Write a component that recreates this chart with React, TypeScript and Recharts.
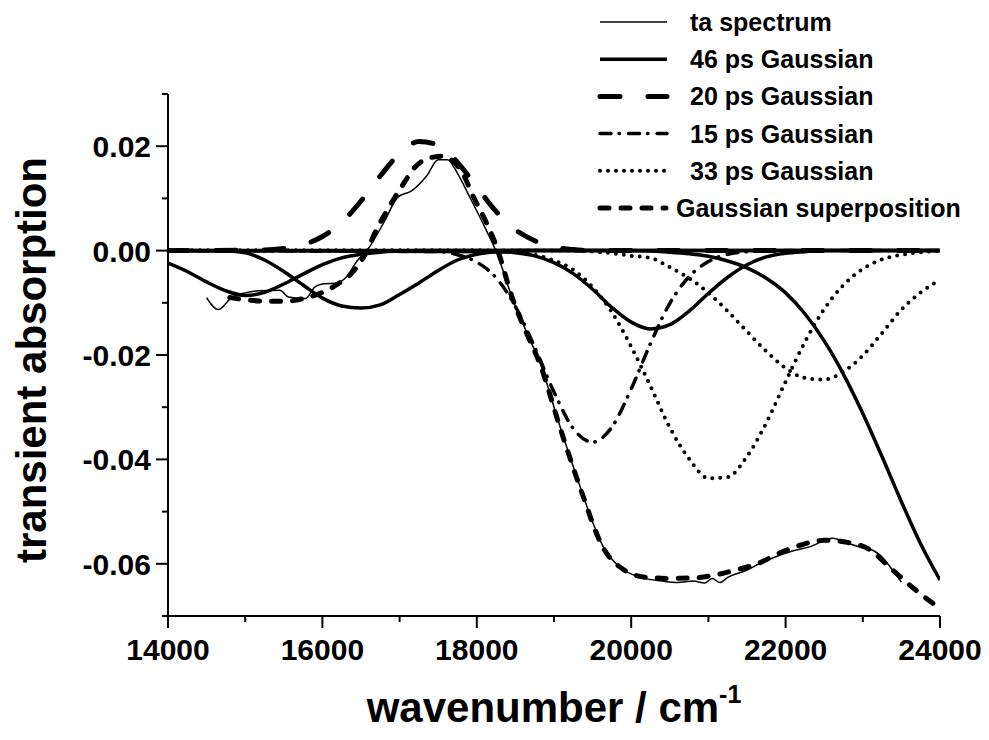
import { LineChart, Line, XAxis, YAxis, Label } from 'recharts';

const FONT = '"Liberation Sans", Arial, Helvetica, sans-serif';

// axis ticks (major every 2000 cm-1 / 0.02, minor in between)
const xTicks = [14000, 15000, 16000, 17000, 18000, 19000, 20000, 21000, 22000, 23000, 24000];
const yTicks = [-0.07, -0.06, -0.05, -0.04, -0.03, -0.02, -0.01, 0, 0.01, 0.02, 0.03];

// measured transient absorption spectrum
const taX = [14500, 14650, 14830, 15000, 15170, 15450, 15560, 15780, 15900, 16000, 16200, 16300, 16450, 16600, 16800, 16980, 17150, 17350, 17500, 17620, 17750, 17900, 18080, 18260, 18470, 18650, 18820, 19080, 19340, 19500, 19640, 19850, 20150, 20400, 20600, 20800, 20950, 21050, 21150, 21250, 21500, 21670, 21900, 22100, 22300, 22610, 22800, 22960, 23100, 23220, 23350, 23500];
const taY = [-0.0090, -0.0113, -0.0089, -0.0081, -0.0077, -0.0076, -0.0089, -0.0092, -0.0070, -0.0064, -0.0062, -0.0052, -0.0020, 0.0005, 0.0055, 0.0103, 0.0114, 0.0143, 0.0174, 0.0174, 0.0148, 0.0105, 0.0052, -0.0005, -0.0095, -0.0158, -0.0216, -0.0338, -0.0453, -0.0520, -0.0568, -0.0606, -0.0627, -0.0633, -0.0636, -0.0633, -0.0637, -0.0628, -0.0636, -0.0626, -0.0612, -0.0599, -0.0585, -0.0575, -0.0568, -0.0551, -0.0560, -0.0568, -0.0572, -0.0583, -0.0605, -0.0635];

// 46 ps Gaussians
const g46aX = [14000, 14250, 14500, 14750, 15000, 15250, 15500, 15750, 16000, 16250, 16500, 16750, 17000, 17250, 24000];
const g46aY = [-0.0024, -0.0040, -0.0060, -0.0077, -0.0086, -0.0080, -0.0064, -0.0045, -0.0027, -0.0014, -0.0007, -0.0003, -0.0001, 0, 0];
const g46bX = [14000, 14750, 15000, 15250, 15500, 15750, 16000, 16250, 16500, 16750, 17000, 17250, 17500, 17750, 18000, 18250, 18500, 24000];
const g46bY = [0, -0.0001, -0.0004, -0.0018, -0.0040, -0.0066, -0.0091, -0.0106, -0.0110, -0.0104, -0.0084, -0.0062, -0.0038, -0.0018, -0.0007, -0.0002, 0, 0];
const g46cX = [14000, 18250, 18500, 18750, 19000, 19250, 19500, 19750, 20000, 20250, 20500, 20750, 21000, 21250, 21500, 21750, 22000, 22250, 22500, 24000];
const g46cY = [0, -0.0002, -0.0004, -0.0010, -0.0023, -0.0044, -0.0074, -0.0109, -0.0137, -0.0150, -0.0142, -0.0116, -0.0082, -0.0051, -0.0027, -0.0012, -0.0005, -0.0002, 0, 0];
const g46dX = [14000, 20000, 20250, 20500, 20750, 21000, 21250, 21500, 21750, 22000, 22250, 22500, 22750, 23000, 23250, 23500, 23750, 24000];
const g46dY = [0, 0, -0.0001, -0.0003, -0.0006, -0.0011, -0.0020, -0.0033, -0.0053, -0.0081, -0.0121, -0.0173, -0.0237, -0.0312, -0.0395, -0.0481, -0.0562, -0.0631];

// 20 ps Gaussian
const g20X = [14000, 15250, 15500, 15750, 16000, 16250, 16500, 16750, 17000, 17250, 17500, 17750, 18000, 18250, 18500, 18750, 19000, 19250, 19500, 24000];
const g20Y = [0, 0.0001, 0.0004, 0.0011, 0.0027, 0.0054, 0.0095, 0.0143, 0.0186, 0.0209, 0.0202, 0.0169, 0.0122, 0.0075, 0.0040, 0.0019, 0.0007, 0.0002, 0, 0];

// 15 ps Gaussian
const g15X = [14000, 17500, 17750, 18000, 18250, 18500, 18750, 19000, 19250, 19500, 19750, 20000, 20250, 20500, 20750, 21000, 21250, 21500, 21750, 24000];
const g15Y = [0, -0.0002, -0.0008, -0.0022, -0.0052, -0.0107, -0.0185, -0.0271, -0.0341, -0.0367, -0.0338, -0.0265, -0.0178, -0.0101, -0.0050, -0.0021, -0.0007, -0.0002, 0, 0];

// 33 ps Gaussians
const g33aX = [14000, 18000, 18250, 18500, 18750, 19000, 19250, 19500, 19750, 20000, 20250, 20500, 20750, 21000, 21250, 21500, 21750, 22000, 22250, 22500, 22750, 23000, 23250, 23500, 23750, 24000];
const g33aY = [0, 0, -0.0001, -0.0003, -0.0008, -0.0019, -0.0037, -0.0070, -0.0118, -0.0184, -0.0260, -0.0339, -0.0399, -0.0436, -0.0434, -0.0394, -0.0330, -0.0251, -0.0175, -0.0112, -0.0066, -0.0035, -0.0017, -0.0008, -0.0003, -0.0001];
const g33bX = [14000, 19250, 19500, 19750, 20000, 20250, 20500, 20750, 21000, 21250, 21500, 21750, 22000, 22250, 22500, 22750, 23000, 23250, 23500, 23750, 24000];
const g33bY = [0, 0, -0.0002, -0.0005, -0.0010, -0.0014, -0.0032, -0.0053, -0.0081, -0.0116, -0.0155, -0.0193, -0.0225, -0.0244, -0.0247, -0.0232, -0.0201, -0.0158, -0.0113, -0.0080, -0.0056];

// sum of all Gaussians
const supX = [14800, 15000, 15250, 15500, 15750, 16000, 16200, 16400, 16550, 16700, 16870, 17020, 17220, 17400, 17550, 17700, 17810, 17950, 18110, 18250, 18470, 18650, 18820, 19080, 19340, 19640, 19900, 20200, 20500, 20800, 21100, 21350, 21650, 21900, 22200, 22500, 22800, 23100, 23350, 23650, 24000];
const supY = [-0.0090, -0.0094, -0.0097, -0.0097, -0.0092, -0.0080, -0.0064, -0.0040, -0.0008, 0.0040, 0.0085, 0.0121, 0.0163, 0.0178, 0.0181, 0.0170, 0.0150, 0.0105, 0.0058, 0.0010, -0.0095, -0.0160, -0.0218, -0.0340, -0.0455, -0.0570, -0.0611, -0.0626, -0.0628, -0.0627, -0.0621, -0.0612, -0.0599, -0.0581, -0.0564, -0.0555, -0.0559, -0.0574, -0.0607, -0.0646, -0.0686];

const pts = (xs: number[], ys: number[]) => xs.map((x, i) => ({ x, y: ys[i] }));

const STYLE: Record<string, { w: number; dash?: string }> = {
  ta: { w: 1.5 },
  g46: { w: 3.5 },
  g20: { w: 5, dash: '20 28' },
  g15: { w: 3.5, dash: '11 8 0.5 9' },
  g33: { w: 4, dash: '0 8' },
  sup: { w: 5, dash: '9 12' },
};

const LEGEND = [
  { key: 'ta', name: 'ta spectrum' },
  { key: 'g46', name: '46 ps Gaussian' },
  { key: 'g20', name: '20 ps Gaussian' },
  { key: 'g15', name: '15 ps Gaussian' },
  { key: 'g33', name: '33 ps Gaussian' },
  { key: 'sup', name: 'Gaussian superposition' },
];

const SERIES = [
  { id: '46a', key: 'g46', data: pts(g46aX, g46aY) },
  { id: '46b', key: 'g46', data: pts(g46bX, g46bY) },
  { id: '46c', key: 'g46', data: pts(g46cX, g46cY) },
  { id: '46d', key: 'g46', data: pts(g46dX, g46dY) },
  { id: '20', key: 'g20', data: pts(g20X, g20Y) },
  { id: '15', key: 'g15', data: pts(g15X, g15Y) },
  { id: '33a', key: 'g33', data: pts(g33aX, g33aY) },
  { id: '33b', key: 'g33', data: pts(g33bX, g33bY) },
  { id: 'ta', key: 'ta', data: pts(taX, taY) },
  { id: 'sup', key: 'sup', data: pts(supX, supY) },
];

function XTick({ x, y, payload }: any) {
  const major = payload.value % 2000 === 0;
  return (
    <g>
      <line x1={x} x2={x} y1={y} y2={y + (major ? 12 : 6)} stroke="#000" strokeWidth={2} />
      {major && (
        <text x={x} y={y + 44} textAnchor="middle" fontSize={30} fontWeight="bold" fontFamily={FONT} fill="#000">
          {payload.value}
        </text>
      )}
    </g>
  );
}

function YTick({ x, y, payload }: any) {
  const major = Math.round(payload.value * 100) % 2 === 0;
  return (
    <g>
      <line x1={x} x2={x - (major ? 12 : 6)} y1={y} y2={y} stroke="#000" strokeWidth={2} />
      {major && (
        <text x={x - 17} y={y + 11} textAnchor="end" fontSize={30} fontWeight="bold" fontFamily={FONT} fill="#000">
          {payload.value.toFixed(2)}
        </text>
      )}
    </g>
  );
}

function LegendBox() {
  return (
    <svg width={989} height={230} style={{ position: 'absolute', left: 0, top: 0, pointerEvents: 'none' }}>
      {LEGEND.map((l, i) => {
        const cy = 22 + i * 37.2;
        const s = STYLE[l.key];
        const last = l.key === 'sup';
        return (
          <g key={l.key}>
            <line x1={600} x2={last ? 666 : 667} y1={cy} y2={cy} stroke="#000" strokeWidth={s.w}
              strokeDasharray={s.dash} strokeLinecap={s.dash ? 'round' : 'butt'} />
            <text x={last ? 676 : 690} y={cy + 9} fontSize={25} fontWeight="bold" fontFamily={FONT} fill="#000">
              {l.name}
            </text>
          </g>
        );
      })}
    </svg>
  );
}

export default function App() {
  return (
    <div style={{ position: 'absolute', left: 0, top: 0, width: 989, height: 740, background: '#fff' }}>
      <LineChart width={989} height={740} margin={{ top: 94, right: 49, bottom: 0, left: 0 }}>
        <XAxis
          dataKey="x"
          type="number"
          domain={[14000, 24000]}
          ticks={xTicks}
          interval={0}
          height={124}
          tickSize={0}
          tickMargin={0}
          tick={<XTick />}
          axisLine={{ stroke: '#000', strokeWidth: 2 }}
          allowDataOverflow
        >
          <Label
            content={() => (
              <text x={554} y={722} textAnchor="middle" fontSize={42} fontWeight="bold" fontFamily={FONT} fill="#000">
                wavenumber / cm
                <tspan dy={-19} fontSize={25}>-1</tspan>
              </text>
            )}
          />
        </XAxis>
        <YAxis
          type="number"
          domain={[-0.07, 0.03]}
          ticks={yTicks}
          interval={0}
          width={168}
          tickSize={0}
          tickMargin={0}
          tick={<YTick />}
          axisLine={{ stroke: '#000', strokeWidth: 2 }}
          allowDataOverflow
        >
          <Label
            content={() => (
              <text x={46} y={360} transform="rotate(-90 46 360)" textAnchor="middle" fontSize={42} fontWeight="bold" fontFamily={FONT} fill="#000">
                transient absorption
              </text>
            )}
          />
        </YAxis>
        {SERIES.map((s) => {
          const st = STYLE[s.key];
          return (
            <Line
              key={s.id}
              data={s.data}
              dataKey="y"
              type="monotone"
              stroke="#000"
              strokeWidth={st.w}
              strokeDasharray={st.dash}
              strokeLinecap={st.dash ? 'round' : 'butt'}
              dot={false}
              activeDot={false}
              isAnimationActive={false}
            />
          );
        })}
      </LineChart>
      <LegendBox />
    </div>
  );
}
